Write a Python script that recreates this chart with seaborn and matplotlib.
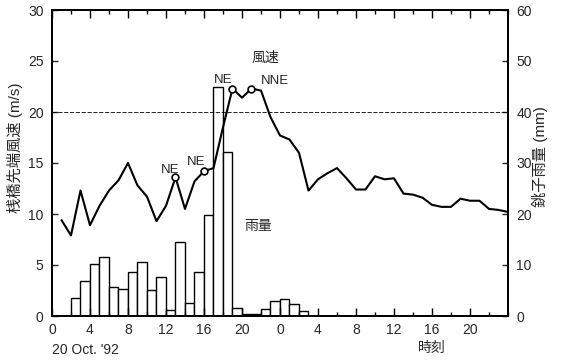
import numpy as np
import pandas as pd
import matplotlib
matplotlib.use("Agg")
import matplotlib.pyplot as plt
from matplotlib.ticker import MultipleLocator
import seaborn as sns

# Hourly wind speed at the pier tip (m/s), hours counted from 0:00 on 20 Oct.
hours = list(range(1, 49))
wind_speed = [9.4, 7.9, 12.3, 8.9, 10.8, 12.3, 13.3, 15.0, 12.8, 11.7,
              9.3, 10.8, 13.6, 10.5, 13.2, 14.2, 14.5, 18.5, 22.3, 21.4,
              22.3, 22.1, 19.5, 17.7, 17.3, 16.0, 12.3, 13.4, 14.0, 14.5,
              13.5, 12.4, 12.4, 13.7, 13.4, 13.5, 12.0, 11.9, 11.6, 10.9,
              10.7, 10.7, 11.5, 11.3, 11.3, 10.5, 10.4, 10.2]

# Hourly rainfall at Choshi (mm); each value covers [hour, hour + 1)
rain_hours = list(range(2, 27))
rain_mm = [3.5, 6.9, 10.1, 11.6, 5.6, 5.3, 8.7, 10.5, 5.1, 7.7,
           1.2, 14.5, 2.6, 8.6, 19.9, 44.9, 32.2, 1.5, 0.4, 0.4,
           1.4, 2.9, 3.4, 2.4, 1.0]

# Wind direction notes
direction_hours = [13, 16, 19, 21]
direction_labels = ["NE", "NE", "NE", "NNE"]

x_ticks = list(range(0, 48, 4))
x_tick_labels = ["0", "4", "8", "12", "16", "20", "0", "4", "8", "12", "16", "20"]

rain_df = pd.DataFrame({"hour": rain_hours, "rain": rain_mm})
wind_df = pd.DataFrame({"hour": hours, "speed": wind_speed})

sns.set_theme(style="ticks")
plt.rcParams["font.family"] = ["Liberation Sans", "Noto Sans CJK JP"]

W, H = 566, 360
fig = plt.figure(figsize=(W / 100, H / 100), dpi=100)
fig.patch.set_facecolor("white")
ax = fig.add_axes([52 / W, 44 / H, 456 / W, 306 / H])
ax_r = ax.twinx()

# rainfall bars on the right axis, one bin per hour
sns.histplot(data=rain_df, x="hour", weights="rain", binwidth=1,
             binrange=(0, 48), ax=ax_r, color="white", edgecolor="black",
             linewidth=1.0, alpha=1.0, legend=False)

# wind speed line on the left axis, drawn above the bars
ax.set_zorder(ax_r.get_zorder() + 1)
ax.patch.set_visible(False)
ax.axhline(20, color="black", lw=0.6, ls=(0, (5, 2)), zorder=1)
sns.lineplot(data=wind_df, x="hour", y="speed", ax=ax, color="black",
             lw=1.5, zorder=3)

dir_speed = [wind_speed[hours.index(h)] for h in direction_hours]
sns.scatterplot(x=direction_hours, y=dir_speed, ax=ax, s=24,
                facecolor="white", edgecolor="black", linewidth=1.2, zorder=4)

offsets = [(-4, 1), (-6, 2), (-7, 2), (17, 1)]
for h, v, lab, off in zip(direction_hours, dir_speed, direction_labels, offsets):
    ax.annotate(lab, (h, v), xytext=off, textcoords="offset points",
                ha="center", va="bottom", fontsize=9.5)

ax.text(0.467, 0.843, "風速", transform=ax.transAxes, ha="center",
        va="center", fontsize=10)
ax.text(0.452, 0.294, "雨量", transform=ax.transAxes, ha="center",
        va="center", fontsize=10)

# axes ranges and ticks
ax.set_xlim(0, 48)
ax.set_ylim(0, 30)
ax_r.set_ylim(0, 60)
ax.set_xticks(x_ticks)
ax.set_xticklabels(x_tick_labels)
ax.xaxis.set_minor_locator(MultipleLocator(2))
ax.yaxis.set_major_locator(MultipleLocator(5))
ax_r.yaxis.set_major_locator(MultipleLocator(10))

ax.tick_params(axis="x", which="both", direction="in", top=True,
               bottom=True, labelsize=10, pad=5, width=1.0, color="black")
ax.tick_params(axis="x", which="major", length=6)
ax.tick_params(axis="x", which="minor", length=3)
ax.tick_params(axis="y", which="major", direction="in", left=True,
               right=False, length=4, width=1.0, labelsize=10, pad=6)
ax_r.tick_params(axis="y", which="major", direction="in", right=True,
                 length=4, width=1.0, labelsize=10, pad=6)
ax_r.set_xlabel("")
ax_r.set_ylabel("")
ax.set_xlabel("")
ax.set_ylabel("")

for a in (ax, ax_r):
    for sp in a.spines.values():
        sp.set_visible(True)
        sp.set_color("black")
        sp.set_linewidth(1.3)

fig.text(15 / W, 1 - 148 / H, "桟橋先端風速 (m/s)", rotation=90,
         ha="center", va="center", fontsize=11)
fig.text(540 / W, 1 - 157 / H, "銚子雨量 (mm)", rotation=90,
         ha="center", va="center", fontsize=11)
fig.text(52 / W, 1 - 350 / H, "20 Oct. '92", ha="left", va="center",
         fontsize=10)
fig.text(432 / W, 1 - 348 / H, "時刻", ha="center", va="center",
         fontsize=10)

fig.savefig("out.png", dpi=100, facecolor="white")
